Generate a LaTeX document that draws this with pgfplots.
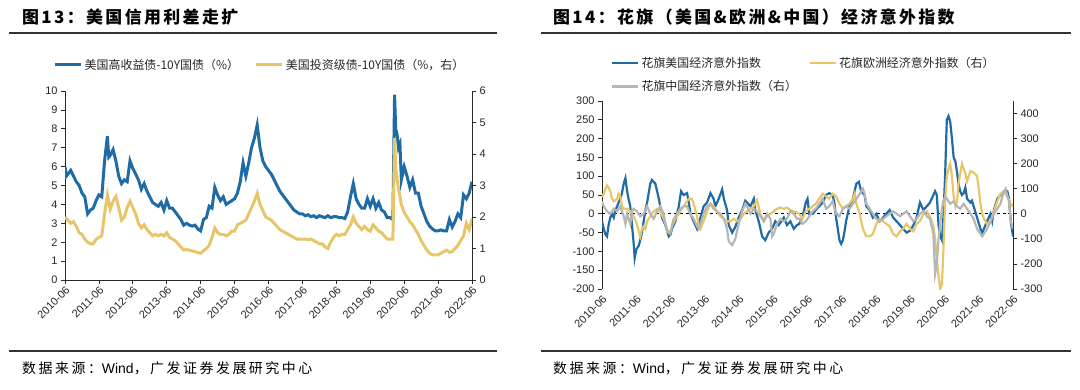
\documentclass[border=0pt]{standalone}
\usepackage{pgfplots}
\pgfplotsset{compat=1.18}
\usepackage{fontspec}
\setmainfont{Liberation Sans}
\newfontfamily\cjk{Noto Sans CJK SC}
\definecolor{cblue}{RGB}{31,107,166}
\definecolor{cyel}{RGB}{230,198,104}
\definecolor{cgrey}{RGB}{182,182,182}
\definecolor{axc}{RGB}{40,40,40}
\pgfplotsset{
  basestyle/.style={
    scale only axis,
    xmin=0, xmax=144,
    tick align=outside,
    major tick length=4bp,
    axis line style={axc, line width=0.9pt},
    tick style={axc, line width=0.8pt},
    ticklabel style={font=\fontsize{11}{12}\selectfont, text=black!85},
    /pgf/number format/assume math mode=true,
    xtick={0,12,...,144},
    xticklabels={2010-06,2011-06,2012-06,2013-06,2014-06,2015-06,2016-06,2017-06,2018-06,2019-06,2020-06,2021-06,2022-06},
    x tick label style={rotate=45, anchor=north east, inner sep=1bp},
    legend image code/.code={\draw[#1] (0bp,0bp) -- (26bp,0bp);},
  },
  secondstyle/.style={xtick=\empty, xticklabels={}},
}
\begin{document}
\begin{tikzpicture}[x=1bp,y=1bp]
\path[use as bounding box] (0,0) rectangle (1080,389);
% ---------- titles and rules ----------
\node[anchor=west, inner sep=0] at (22,372) {\cjk\bfseries\fontsize{17}{20}\selectfont\addfontfeatures{LetterSpace=14}图13：美国信用利差走扩};
\node[anchor=west, inner sep=0] at (553,372) {\cjk\bfseries\fontsize{17}{20}\selectfont\addfontfeatures{LetterSpace=14}图14：花旗（美国\&欧洲\&中国）经济意外指数};
\draw[line width=1.3bp, black!80] (9,356) -- (497,356);
\draw[line width=1.3bp, black!80] (541,356) -- (1071,356);
\draw[line width=1.3bp, black!80] (9,38) -- (497,38);
\draw[line width=1.3bp, black!80] (541,38) -- (1071,38);
\node[anchor=west, inner sep=0] at (22,21) {\cjk\fontsize{14}{16}\selectfont\addfontfeatures{LetterSpace=18}数据来源：{\rmfamily Wind}，广发证券发展研究中心};
\node[anchor=west, inner sep=0] at (553,21) {\cjk\fontsize{14}{16}\selectfont\addfontfeatures{LetterSpace=18}数据来源：{\rmfamily Wind}，广发证券发展研究中心};

% ---------- left chart ----------
\begin{axis}[basestyle, at={(65bp,109bp)}, anchor=south west,
  width=407bp, height=189bp,
  axis y line*=left, axis x line*=bottom,
  ymin=0, ymax=10, ytick={0,1,...,10}]
\addplot[cblue, line width=3pt] coordinates {
(0,6.0)(0.5,5.5)(1,5.6)(2,5.8)(3,5.5)(4,5.2)(5,5.0)(6,4.6)(7,4.4)(8,3.5)(9,3.7)(10,3.8)(11,4.2)(12,4.5)(13,4.4)(14,6.3)(15,7.6)(15.5,6.5)(16,6.6)(17,6.9)(18,6.3)(19,5.5)(20,5.1)(21,5.3)(22,5.2)(23,6.3)(24,5.9)(25,5.6)(26,5.3)(27,4.8)(28,5.1)(29,4.7)(30,4.4)(31,4.1)(32,4.0)(33,3.9)(34,4.1)(35,3.7)(36,4.2)(37,3.8)(38,3.8)(39,3.6)(40,3.4)(41,3.2)(42,2.9)(43,3.0)(44,2.9)(45,2.85)(46,2.9)(47,2.7)(48,2.6)(49,3.2)(50,3.3)(51,3.9)(52,3.8)(53,4.9)(54,4.5)(55,4.2)(56,4.4)(57,4.0)(58,4.1)(59,4.2)(60,4.3)(61,4.6)(62,5.2)(63,6.2)(64,5.5)(65,6.2)(66,7.0)(67,7.5)(68,8.2)(69,7.0)(70,6.3)(71,6.0)(72,5.8)(73,5.6)(74,5.3)(75,5.0)(76,4.7)(77,4.5)(78,4.3)(79,4.1)(80,3.9)(81,3.7)(82,3.6)(83,3.5)(84,3.5)(85,3.4)(86,3.45)(87,3.35)(88,3.4)(89,3.3)(90,3.4)(91,3.35)(92,3.3)(93,3.4)(94,3.3)(95,3.35)(96,3.35)(97,3.3)(98,3.3)(99,3.25)(100,3.6)(101,4.4)(102,5.1)(103,4.3)(104,4.0)(105,3.8)(106,3.8)(107,4.3)(108,3.9)(109,4.3)(110,3.8)(111,4.1)(112,3.7)(113,3.6)(114,3.3)(115,3.3)(116,3.2)(116.6,9.8)(117,8.0)(117.5,7.7)(118,7.0)(118.5,7.2)(119,5.3)(120,6.0)(121,5.5)(122,4.9)(123,5.3)(124,4.6)(125,4.6)(126,3.9)(127,3.5)(128,3.1)(129,2.85)(130,2.7)(131,2.6)(132,2.6)(133,2.65)(134,2.6)(135,2.6)(136,3.2)(137,2.8)(138,3.1)(139,3.5)(140,3.3)(141,4.5)(142,4.3)(143,4.6)(144,5.2)};
\end{axis}
\begin{axis}[basestyle, secondstyle, at={(65bp,109bp)}, anchor=south west,
  width=407bp, height=189bp,
  axis y line*=right, axis x line=none,
  ymin=0, ymax=6, ytick={0,1,...,6},
  legend columns=2,
  legend style={at={(0.479,1.138)}, anchor=center, draw=none, fill=none,
    font=\cjk\fontsize{12}{13}\selectfont, text=black!85,
    /tikz/every even column/.append style={column sep=14bp}},
  legend cell align=left]
\addlegendimage{cblue, line width=3pt}
\addlegendentry{美国高收益债-10Y国债（\%）}
\addplot[cyel, line width=3pt] coordinates {
(0,2.0)(1,1.9)(2,1.8)(3,1.85)(4,1.7)(5,1.5)(6,1.45)(7,1.3)(8,1.2)(9,1.15)(10,1.15)(11,1.3)(12,1.35)(13,1.4)(14,2.1)(15,2.7)(16,2.25)(17,2.5)(18,2.65)(19,2.3)(20,1.9)(21,2.0)(22,2.3)(23,2.5)(24,2.3)(25,2.1)(26,1.8)(27,1.65)(28,1.75)(29,1.6)(30,1.5)(31,1.4)(32,1.45)(33,1.4)(34,1.45)(35,1.4)(36,1.5)(37,1.35)(38,1.3)(39,1.25)(40,1.15)(41,1.05)(42,0.95)(43,0.97)(44,0.95)(45,0.92)(46,0.9)(47,0.87)(48,0.85)(49,0.93)(50,1.0)(51,1.1)(52,1.35)(53,1.65)(54,1.5)(55,1.45)(56,1.45)(57,1.4)(58,1.45)(59,1.55)(60,1.55)(61,1.75)(62,1.8)(63,1.85)(64,1.9)(65,2.1)(66,2.3)(67,2.5)(68,2.75)(69,2.4)(70,2.2)(71,2.0)(72,1.95)(73,1.9)(74,1.8)(75,1.7)(76,1.6)(77,1.55)(78,1.5)(79,1.45)(80,1.4)(81,1.35)(82,1.3)(83,1.3)(84,1.3)(85,1.3)(86,1.28)(87,1.3)(88,1.25)(89,1.2)(90,1.15)(91,1.15)(92,1.05)(93,1.0)(94,1.2)(95,1.35)(96,1.45)(97,1.4)(98,1.45)(99,1.45)(100,1.6)(101,1.75)(102,2.0)(103,1.8)(104,1.7)(105,1.6)(106,1.7)(107,1.6)(108,1.55)(109,1.75)(110,1.65)(111,1.55)(112,1.5)(113,1.4)(114,1.3)(115,1.3)(116,1.3)(116.6,4.5)(117,3.6)(117.5,3.2)(118,2.9)(119,2.4)(120,2.15)(121,2.0)(122,1.85)(123,1.75)(124,1.6)(125,1.45)(126,1.25)(127,1.1)(128,0.95)(129,0.85)(130,0.8)(131,0.8)(132,0.8)(133,0.85)(134,0.9)(135,0.95)(136,0.88)(137,0.9)(138,1.0)(139,1.1)(140,1.25)(141,1.4)(142,1.8)(143,1.6)(144,1.95)};
\addlegendentry{美国投资级债-10Y国债（\%，右）}
\end{axis}

% ---------- right chart ----------
\begin{axis}[basestyle, at={(602bp,100bp)}, anchor=south west,
  width=411bp, height=188bp,
  axis y line*=left, axis x line*=bottom,
  x axis line style={draw=none}, xtick style={draw=none},
  ymin=-200, ymax=300, ytick={-200,-150,...,300}]
\addplot[black, dashed, line width=0.8pt] coordinates {(0,0)(144,0)};
\addplot[cblue, line width=2.2pt] coordinates {
(0,-20)(0.6,-40)(1.2,-55)(1.75,-60)(2.3,-30)(2.9,-10)(3.5,0)(4.1,-10)(4.7,10)(5.3,20)(5.8,30)(6.4,40)(7.0,55)(7.6,80)(8.2,95)(8.8,60)(9.3,40)(9.9,20)(10.5,-30)(11.1,-80)(11.45,-118)(12.0,-95)(12.85,-85)(13.4,-70)(14.0,-50)(14.6,-20)(15.2,10)(15.8,30)(16.9,80)(17.5,90)(18.7,80)(19.3,60)(19.9,40)(20.4,20)(21.0,-10)(22.2,-30)(23.4,-60)(24.0,-55)(24.5,-40)(25.7,-20)(26.9,20)(27.7,60)(28.6,50)(29.8,55)(30.4,30)(31.0,0)(32.1,-20)(33.3,-40)(34.5,-10)(35.6,20)(36.8,30)(38.0,55)(39.1,40)(39.7,20)(40.9,40)(42.1,65)(42.7,40)(43.8,10)(44.4,-30)(45.6,-50)(46.7,-35)(47.9,-10)(49.1,10)(50.2,35)(50.8,30)(52.0,20)(53.2,40)(53.7,10)(54.9,-20)(56.1,-60)(57.2,-70)(58.4,-50)(59.6,-40)(60.7,-20)(61.9,-30)(63.7,-10)(64.8,-30)(66.0,-20)(67.2,-40)(68.3,-30)(69.1,-27)(70.2,-10)(71.4,30)(72.0,40)(72.6,0)(73.8,0)(74.9,10)(76.1,20)(77.3,30)(78.5,50)(79.6,55)(80.8,50)(81.4,30)(82.0,-10)(82.6,-40)(83.2,-70)(83.8,-80)(84.4,-70)(84.9,-50)(85.5,-20)(86.7,20)(87.9,40)(89.1,80)(90.0,85)(90.8,60)(92.0,50)(92.6,20)(93.8,10)(94.9,-10)(96.1,0)(97.3,-20)(98.5,-10)(99.6,0)(100.8,10)(102.0,-10)(103.2,-20)(104.4,-30)(105.5,-40)(106.7,-50)(107.9,-45)(109.1,-30)(110.2,-10)(111.4,30)(112.6,10)(113.8,20)(114.9,30)(116.1,50)(116.7,60)(117.3,50)(117.9,-30)(118.5,-60)(119.1,-70)(119.6,-10)(120.2,100)(120.8,250)(121.4,260)(122.0,245)(122.6,200)(123.2,150)(123.8,140)(124.4,110)(124.9,80)(125.5,60)(126.1,50)(126.7,55)(127.3,70)(127.9,40)(129.1,30)(129.6,35)(130.2,20)(131.4,-10)(132.6,-40)(133.2,-50)(133.8,-40)(134.9,-20)(136.1,0)(136.7,-20)(137.3,10)(138.5,40)(139.6,50)(140.8,60)(142.0,60)(142.6,40)(143.2,-20)(144.0,-60)};
\end{axis}
\begin{axis}[basestyle, secondstyle, at={(602bp,100bp)}, anchor=south west,
  width=411bp, height=188bp,
  axis y line*=right, axis x line=none,
  ymin=-300, ymax=450, ytick={-300,-200,...,400},
  legend columns=2,
  legend style={at={(0.015,1.257)}, anchor=north west, draw=none, fill=none,
    font=\cjk\fontsize{12}{13}\selectfont, text=black!85, row sep=8bp,
    /tikz/every even column/.append style={column sep=10bp}},
  legend cell align=left]
\addlegendimage{cblue, line width=2.2pt}
\addlegendentry{花旗美国经济意外指数}
\addplot[cyel, line width=2.2pt] coordinates {
(0,67)(0.6,80)(1.2,100)(1.75,113)(2.3,105)(2.9,90)(3.5,60)(4.1,50)(5.3,60)(5.8,80)(6.4,70)(7.0,30)(7.6,20)(8.8,20)(9.9,10)(11.1,-10)(12.2,-40)(12.85,-70)(13.4,-90)(14.0,-60)(14.6,-50)(15.2,-60)(15.8,-30)(16.9,-10)(18.1,10)(19.3,20)(20.4,10)(21.6,-20)(22.2,-40)(22.8,-60)(23.4,-75)(24.0,-70)(24.5,-50)(25.7,-20)(26.9,0)(28.0,20)(29.2,40)(30.4,60)(31.5,60)(32.1,40)(33.3,-10)(33.9,-50)(34.5,-60)(35.6,-30)(36.8,10)(38.0,40)(39.1,30)(40.3,10)(41.5,-10)(42.7,-20)(43.8,-30)(45.0,-30)(46.1,-20)(47.3,-30)(48.5,-20)(49.7,0)(50.8,10)(52.0,20)(53.2,30)(54.3,55)(55.5,0)(56.7,-30)(57.8,-10)(59.0,0)(60.2,10)(61.3,20)(62.5,25)(63.7,20)(64.8,25)(66.0,15)(67.2,10)(68.3,5)(69.1,0)(70.2,-20)(71.4,10)(72.6,20)(73.8,30)(74.9,40)(76.1,60)(77.3,80)(78.5,70)(79.6,60)(80.8,80)(82.0,70)(83.2,40)(84.4,20)(85.5,30)(86.7,40)(87.9,60)(88.5,80)(89.1,40)(90.3,0)(91.4,-60)(92.6,-90)(93.8,-90)(94.9,-80)(96.1,-40)(97.3,-20)(98.5,-30)(99.6,-40)(100.8,-50)(102.0,-80)(103.2,-90)(104.4,-70)(105.5,-60)(106.7,-40)(107.9,-60)(109.1,-70)(110.2,-40)(111.4,-30)(112.6,0)(113.8,10)(114.9,-10)(116.1,-50)(116.7,-100)(117.3,-180)(117.9,-250)(118.5,-300)(119.1,-280)(119.6,-150)(120.2,50)(120.8,150)(121.4,180)(122.0,200)(122.6,150)(123.2,70)(123.8,30)(124.4,50)(124.9,120)(125.5,160)(126.1,200)(126.7,180)(127.3,160)(127.9,130)(128.5,150)(129.1,170)(130.2,165)(131.4,150)(132.0,100)(132.6,40)(133.2,0)(133.8,-20)(134.9,-40)(136.1,-30)(137.3,10)(138.5,50)(139.6,80)(140.8,90)(142.0,70)(143.2,40)(144.0,30)};
\addlegendentry{花旗欧洲经济意外指数（右）}
\addplot[cgrey, line width=2.2pt] coordinates {
(0,50)(0.6,30)(1.75,10)(2.9,0)(4.1,20)(5.3,10)(6.4,30)(7.6,-10)(8.2,-40)(8.8,0)(9.3,-20)(9.9,-40)(10.5,10)(11.1,20)(12.2,10)(13.4,-10)(14.6,0)(15.8,30)(16.9,0)(18.1,-20)(19.3,10)(20.4,30)(21.6,0)(22.2,-40)(22.8,-70)(23.9,-80)(24.5,-50)(25.1,-20)(26.3,0)(27.4,20)(28.6,30)(29.8,30)(30.9,0)(32.1,-20)(33.3,-50)(33.9,-60)(34.5,-40)(35.6,0)(36.8,30)(38.0,40)(39.1,20)(40.3,10)(41.5,0)(42.7,-20)(43.8,-60)(44.4,-110)(45.6,-125)(46.7,-100)(47.9,-40)(49.1,10)(50.2,40)(50.8,30)(52.0,0)(53.2,20)(54.3,10)(55.5,-10)(56.7,-30)(57.8,0)(59.0,-20)(59.6,-90)(60.2,-80)(61.3,-40)(62.5,-20)(63.7,-30)(64.8,-20)(66.0,10)(67.2,0)(68.3,-20)(69.1,-20)(70.2,-40)(71.4,-30)(72.6,-10)(73.8,10)(74.9,20)(76.1,40)(77.3,60)(78.5,20)(79.6,30)(80.8,50)(82.0,0)(83.2,-10)(84.4,20)(85.5,30)(86.7,20)(87.9,40)(89.1,60)(90.3,80)(91.4,100)(92.0,80)(92.6,40)(93.8,20)(94.9,0)(96.1,-20)(97.3,-30)(98.5,-20)(99.6,-10)(100.8,0)(102.0,10)(103.2,0)(104.4,-10)(105.5,0)(106.7,10)(107.9,-10)(109.1,-30)(110.2,-20)(111.4,0)(112.6,10)(113.8,-10)(114.9,-20)(116.1,-80)(116.7,-240)(117.3,-200)(117.9,-100)(118.5,-40)(119.1,20)(119.6,50)(120.2,70)(120.8,60)(121.4,50)(122.0,40)(123.2,50)(124.4,30)(125.5,20)(126.7,40)(127.9,20)(129.1,0)(130.2,-20)(131.4,-60)(132.6,-80)(133.2,-90)(133.8,-80)(134.9,-60)(136.1,-30)(137.3,0)(138.5,20)(139.6,40)(140.8,90)(141.4,100)(142.0,70)(142.6,50)(143.2,-30)(144.0,-60)};
\addlegendentry{花旗中国经济意外指数（右）}
\end{axis}
\end{tikzpicture}
\end{document}
